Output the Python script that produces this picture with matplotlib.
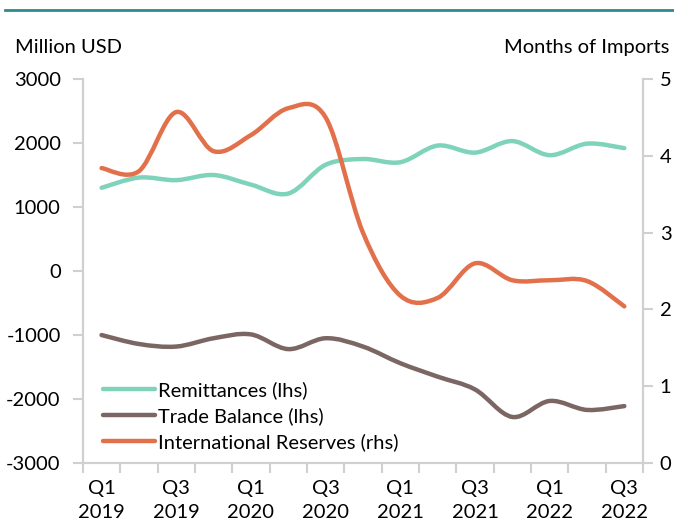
import matplotlib.pyplot as plt
from matplotlib.path import Path
from matplotlib.patches import PathPatch
from matplotlib.lines import Line2D

plt.rcParams['font.family'] = ['Lato', 'DejaVu Sans']
plt.rcParams['axes.unicode_minus'] = False

quarters = ['Q1\n2019', 'Q2\n2019', 'Q3\n2019', 'Q4\n2019',
            'Q1\n2020', 'Q2\n2020', 'Q3\n2020', 'Q4\n2020',
            'Q1\n2021', 'Q2\n2021', 'Q3\n2021', 'Q4\n2021',
            'Q1\n2022', 'Q2\n2022', 'Q3\n2022']
remittances = [1300, 1460, 1420, 1500, 1350, 1210, 1660, 1750,
               1700, 1960, 1850, 2030, 1810, 1990, 1920]
trade_balance = [-1000, -1140, -1180, -1050, -990, -1220, -1050, -1180,
                 -1440, -1650, -1850, -2280, -2030, -2170, -2110]
reserves = [3.84, 3.80, 4.57, 4.06, 4.27, 4.62, 4.50, 3.00,
            2.18, 2.15, 2.60, 2.38, 2.38, 2.37, 2.04]

c_rem = '#7fd3ba'
c_tb = '#7b6664'
c_res = '#e2704b'
c_axis = '#d0d0d0'
fs = 14.5


def smooth_path(ys):
    # cubic bezier through the points (excel style smoothed line)
    pts = list(zip(range(len(ys)), ys))
    verts = [pts[0]]
    codes = [Path.MOVETO]
    for i in range(len(pts) - 1):
        p0 = pts[i - 1] if i > 0 else pts[i]
        p1 = pts[i]
        p2 = pts[i + 1]
        p3 = pts[i + 2] if i + 2 < len(pts) else pts[i + 1]
        c1 = (p1[0] + (p2[0] - p0[0]) / 6, p1[1] + (p2[1] - p0[1]) / 6)
        c2 = (p2[0] - (p3[0] - p1[0]) / 6, p2[1] - (p3[1] - p1[1]) / 6)
        verts += [c1, c2, p2]
        codes += [Path.CURVE4] * 3
    return Path(verts, codes)


fig = plt.figure(figsize=(6.74, 5.25), dpi=100)
ax = fig.add_axes([0.123, 0.118, 0.831, 0.7315])
ax2 = ax.twinx()

lw = 3.2
for data, col in [(remittances, c_rem), (trade_balance, c_tb)]:
    ax.add_patch(PathPatch(smooth_path(data), fill=False, edgecolor=col,
                           lw=lw, capstyle='round', joinstyle='round'))
ax2.add_patch(PathPatch(smooth_path(reserves), fill=False, edgecolor=c_res,
                        lw=lw, capstyle='round', joinstyle='round'))

ax.set_xlim(-0.5, len(quarters) - 0.5)
ax.set_ylim(-3000, 3000)
ax2.set_ylim(0, 5)
ax.set_yticks(range(-3000, 3001, 1000))
ax2.set_yticks(range(0, 6))

ax.set_xticks(range(len(quarters))[::2])
ax.set_xticklabels(quarters[::2], linespacing=1.55)
ax.set_xticks([i - 0.5 for i in range(len(quarters) + 1)], minor=True)
ax.tick_params(axis='x', which='major', length=0, pad=12, labelsize=fs)
ax.tick_params(axis='x', which='minor', length=7, color=c_axis, width=1.5)
ax.tick_params(axis='y', length=7, color=c_axis, width=1.5, labelsize=fs, pad=9)
ax2.tick_params(axis='y', length=7, color=c_axis, width=1.5, labelsize=fs, pad=5)

for a in (ax, ax2):
    a.spines['top'].set_visible(False)
    for s in ('left', 'right', 'bottom'):
        a.spines[s].set_color(c_axis)
        a.spines[s].set_linewidth(1.5)

fig.text(0.022, 0.91, 'Million USD', fontsize=fs, va='center')
fig.text(0.993, 0.91, 'Months of Imports', fontsize=fs, va='center', ha='right')

# teal rule at the top
fig.add_artist(Line2D([0.007, 1.0], [0.981, 0.981], color='#2e8a8e', lw=2))

handles = [Line2D([], [], color=c, lw=lw, solid_capstyle='round')
           for c in (c_rem, c_tb, c_res)]
ax.legend(handles, ['Remittances (lhs)', 'Trade Balance (lhs)',
                    'International Reserves (rhs)'],
          loc='lower left', bbox_to_anchor=(0.035, 0.03), frameon=False,
          fontsize=fs, handlelength=2.6, handletextpad=0.15,
          labelspacing=0.42, borderpad=0, borderaxespad=0)

plt.savefig('out.png', dpi=100)
plt.close()
